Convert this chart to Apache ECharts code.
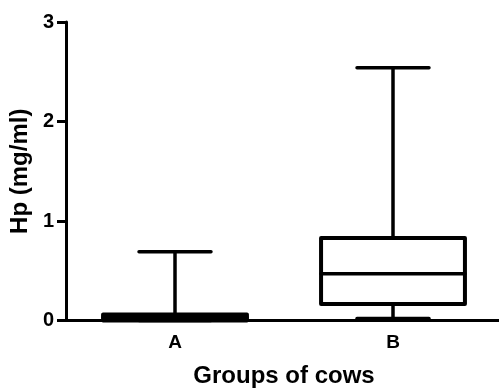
<!DOCTYPE html>
<html>
<head>
<meta charset="utf-8">
<script src="https://cdn.jsdelivr.net/npm/echarts@6/dist/echarts.min.js"></script>
<style>
  html, body { margin: 0; padding: 0; background: #fff; }
  #chart { width: 499px; height: 389px; }
</style>
</head>
<body>
<div id="chart"></div>
<script>
// Haptoglobin concentration per group: five-number summaries
const groups = ['A', 'B'];
const minVals = [0, 0.02];
const q1Vals = [0, 0.165];
const medianVals = [0.03, 0.47];
const q3Vals = [0.06, 0.83];
const maxVals = [0.69, 2.54];
const yTicks = [0, 1, 2, 3];

const FONT = '"Liberation Sans", Arial, sans-serif';
const LW = 3.5;

const seriesData = groups.map((g, i) => [i, minVals[i], q1Vals[i], medianVals[i], q3Vals[i], maxVals[i]]);

function renderBox(params, api) {
  const idx = api.value(0);
  const band = api.size([1, 0])[0];
  const boxHalf = band * 0.33;
  const capHalf = boxHalf / 2;
  const pMin = api.coord([idx, api.value(1)]);
  const pQ1 = api.coord([idx, api.value(2)]);
  const pMed = api.coord([idx, api.value(3)]);
  const pQ3 = api.coord([idx, api.value(4)]);
  const pMax = api.coord([idx, api.value(5)]);
  const cx = pMed[0];
  const stroke = { stroke: '#000', lineWidth: LW, fill: null, lineCap: 'round' };
  const line = (x1, y1, x2, y2) => ({ type: 'line', shape: { x1, y1, x2, y2 }, style: stroke });
  return {
    type: 'group',
    children: [
      line(cx, pQ3[1], cx, pMax[1]),
      line(cx - capHalf, pMax[1], cx + capHalf, pMax[1]),
      line(cx, pQ1[1], cx, pMin[1]),
      line(cx - capHalf, pMin[1], cx + capHalf, pMin[1]),
      {
        type: 'rect',
        shape: { x: cx - boxHalf, y: pQ3[1], width: boxHalf * 2, height: pQ1[1] - pQ3[1] },
        style: { stroke: '#000', lineWidth: LW + 0.5, fill: '#fff', lineJoin: 'round' }
      },
      line(cx - boxHalf, pMed[1], cx + boxHalf, pMed[1])
    ]
  };
}

const chart = echarts.init(document.getElementById('chart'), null, { renderer: 'canvas' });
chart.setOption({
  animation: false,
  backgroundColor: '#fff',
  grid: { left: 66, top: 22, width: 436, height: 298.5, containLabel: false, outerBoundsMode: 'none' },
  xAxis: {
    type: 'category',
    data: groups,
    name: 'Groups of cows',
    nameLocation: 'middle',
    nameGap: 44,
    nameTextStyle: { fontFamily: FONT, fontWeight: 'bold', fontSize: 24, color: '#000' },
    axisLine: { lineStyle: { color: '#000', width: 3 } },
    axisTick: { alignWithLabel: true, length: 9, lineStyle: { color: '#000', width: 3 } },
    axisLabel: { fontFamily: FONT, fontWeight: 'bold', fontSize: 19, color: '#000', margin: 13 },
    splitLine: { show: false }
  },
  yAxis: {
    type: 'value',
    min: yTicks[0],
    max: yTicks[yTicks.length - 1],
    interval: yTicks[1] - yTicks[0],
    name: 'Hp (mg/ml)',
    nameLocation: 'middle',
    nameGap: 34,
    nameTextStyle: { fontFamily: FONT, fontWeight: 'bold', fontSize: 24, color: '#000' },
    axisLine: { show: true, lineStyle: { color: '#000', width: 3 } },
    axisTick: { show: true, length: 9, lineStyle: { color: '#000', width: 3 } },
    axisLabel: { fontFamily: FONT, fontWeight: 'bold', fontSize: 20, color: '#000', margin: 12 },
    splitLine: { show: false }
  },
  series: [{
    type: 'custom',
    renderItem: renderBox,
    encode: { x: 0, y: [1, 2, 3, 4, 5] },
    data: seriesData,
    clip: false,
    z: 3
  }]
});
</script>
</body>
</html>
